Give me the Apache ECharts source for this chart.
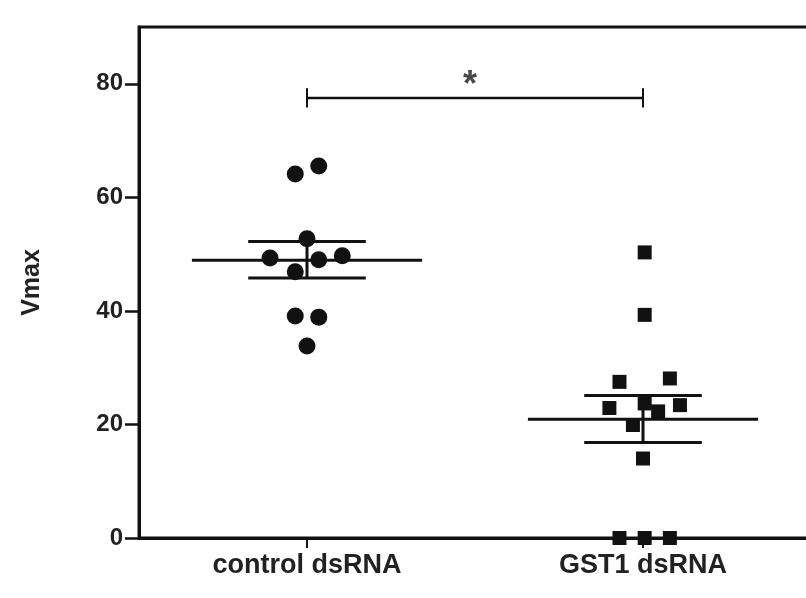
<!DOCTYPE html>
<html>
<head>
<meta charset="utf-8">
<script src="https://cdn.jsdelivr.net/npm/echarts@6/dist/echarts.min.js"></script>
<style>html,body{margin:0;padding:0;background:#fff}#c{width:806px;height:598px}</style>
</head>
<body>
<div id="c"></div>
<script>
// Data
const categories = ['control dsRNA', 'GST1 dsRNA'];
const groupPos = [1, 3];
const yTicks = [0, 20, 40, 60, 80];
// control dsRNA points: [x position (jitter), Vmax]
const controlX = [0.93, 1.07, 1.00, 0.78, 1.07, 1.21, 0.93, 0.93, 1.07, 1.00];
const controlY = [64.1, 65.5, 52.7, 49.3, 49.0, 49.7, 46.9, 39.1, 38.9, 33.8];
// GST1 dsRNA points
const gstX = [3.01, 3.01, 2.86, 3.16, 2.80, 3.01, 3.09, 3.22, 2.94, 3.00, 2.86, 3.01, 3.16];
const gstY = [50.3, 39.3, 27.5, 28.1, 22.9, 23.7, 22.3, 23.4, 19.9, 14.0, 0, 0, 0];
// mean and SEM bars
const means = [48.9, 20.9];
const semUpper = [52.2, 25.1];
const semLower = [45.8, 16.8];
// significance bracket
const sigLevel = 77.5;
const sigText = '*';

const meanHalf = 0.685, semHalf = 0.35, capHalf = 1.7;
const lineStyle = {color: '#111', width: 3};
const series = [
  {type: 'scatter', symbol: 'circle', symbolSize: 17, itemStyle: {color: '#111', opacity: 1},
   data: controlX.map((x, i) => [x, controlY[i]]), z: 2},
  {type: 'scatter', symbol: 'rect', symbolSize: 14, itemStyle: {color: '#111', opacity: 1},
   data: gstX.map((x, i) => [x, gstY[i]]), z: 2}
];
groupPos.forEach((g, i) => {
  const segs = [
    [[g - meanHalf, means[i]], [g + meanHalf, means[i]]],
    [[g - semHalf, semUpper[i]], [g + semHalf, semUpper[i]]],
    [[g - semHalf, semLower[i]], [g + semHalf, semLower[i]]],
    [[g, semLower[i]], [g, semUpper[i]]]
  ];
  segs.forEach(s => series.push({type: 'line', data: s, symbol: 'none', lineStyle: lineStyle, z: 3, silent: true}));
});
// significance bracket
series.push({type: 'line', data: [[groupPos[0], sigLevel], [groupPos[1], sigLevel]], symbol: 'none', lineStyle: {color: '#111', width: 2.5}, z: 3});
groupPos.forEach(g => series.push({type: 'line', data: [[g, sigLevel - capHalf], [g, sigLevel + capHalf]], symbol: 'none', lineStyle: {color: '#111', width: 2}, z: 3}));
series.push({type: 'scatter', symbolSize: 1, itemStyle: {color: 'rgba(0,0,0,0)'},
  data: [[(groupPos[0] + groupPos[1]) / 2, sigLevel]],
  label: {show: true, formatter: sigText, position: 'top', distance: 2, offset: [-5, 9], fontSize: 36, fontWeight: 'bold', color: '#1a1a1a', fontFamily: 'Liberation Sans'}});

const chart = echarts.init(document.getElementById('c'), null, {renderer: 'canvas'});
chart.setOption({
  backgroundColor: '#fff',
  animation: false,
  grid: {left: 139, top: 27, width: 672, height: 511, show: true, borderColor: '#111', borderWidth: 3, outerBoundsMode: 'none', containLabel: false},
  xAxis: {
    type: 'value', min: 0, max: 4, interval: 1,
    splitLine: {show: false},
    axisLine: {onZero: false, lineStyle: {color: '#111', width: 3}},
    axisTick: {show: true, customValues: groupPos, length: 10, lineStyle: {color: '#111', width: 2}},
    axisLabel: {customValues: groupPos, formatter: v => categories[groupPos.indexOf(v)] || '',
      fontSize: 27, fontWeight: 'bold', color: '#222', fontFamily: 'Liberation Sans', margin: 14}
  },
  yAxis: {
    type: 'value', min: 0, max: 90,
    name: 'Vmax', nameLocation: 'middle', nameGap: 94, nameRotate: 90,
    nameTextStyle: {fontSize: 25, fontWeight: 'bold', color: '#222', fontFamily: 'Liberation Sans'},
    splitLine: {show: false},
    axisLine: {lineStyle: {color: '#111', width: 3}},
    axisTick: {show: true, customValues: yTicks, length: 14, lineStyle: {color: '#111', width: 2.5}},
    axisLabel: {customValues: yTicks, fontSize: 24, fontWeight: 'bold', color: '#222', fontFamily: 'Liberation Sans', margin: 16}
  },
  series: series
});
</script>
</body>
</html>
